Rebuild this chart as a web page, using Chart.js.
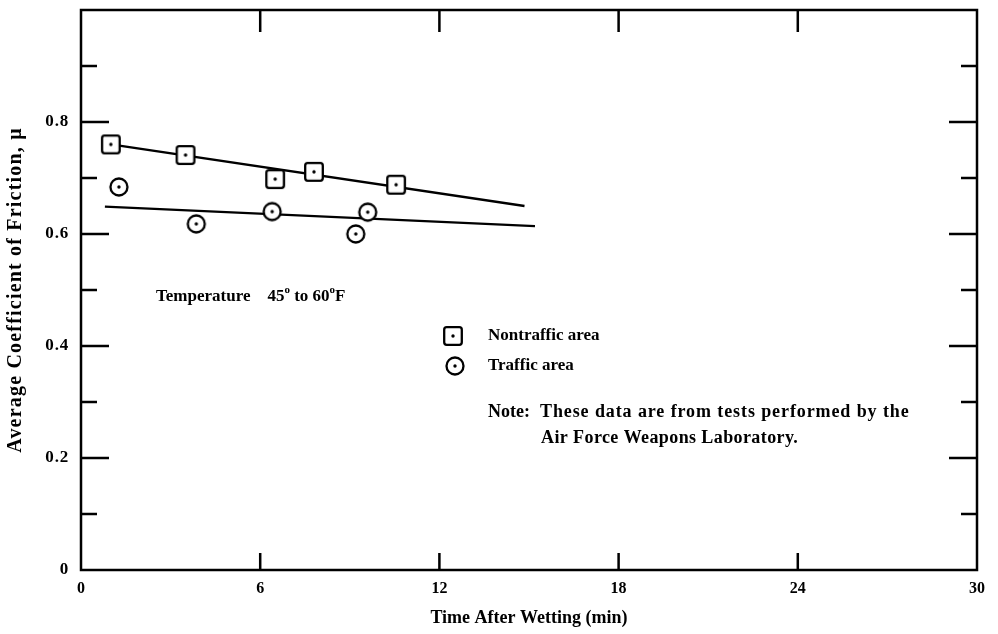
<!DOCTYPE html>
<html>
<head>
<meta charset="utf-8">
<script src="https://cdn.jsdelivr.net/npm/chart.js@4"></script>
<style>
  html, body { margin: 0; padding: 0; background: #ffffff; }
  #wrap { width: 998px; height: 634px; }
</style>
</head>
<body>
<div id="wrap"><canvas id="c" width="998" height="634"></canvas></div>
<script>
// ---- data ----
const timeNontraffic = [1.0, 3.5, 6.5, 7.8, 10.55];
const muNontraffic   = [0.760, 0.741, 0.698, 0.711, 0.688];
const timeTraffic    = [1.27, 3.86, 6.4, 9.6, 9.2];
const muTraffic      = [0.684, 0.618, 0.640, 0.639, 0.600];
const fitNontrafficX = [1.0, 14.85];
const fitNontrafficY = [0.760, 0.650];
const fitTrafficX    = [0.8, 15.2];
const fitTrafficY    = [0.649, 0.614];
const xTickValues    = [0, 6, 12, 18, 24, 30];
const yTickLabels    = ['0', '0.2', '0.4', '0.6', '0.8'];
const seriesNames    = ['Nontraffic area', 'Traffic area'];

const FONT = '"Liberation Serif", "Times New Roman", serif';

function pts(xs, ys) { return xs.map((x, i) => ({ x: x, y: ys[i] })); }

function makeMarker(kind) {
  const c = document.createElement('canvas');
  c.width = 24; c.height = 24;
  const g = c.getContext('2d');
  g.lineWidth = 2.3;
  g.strokeStyle = '#000';
  g.fillStyle = '#fff';
  g.beginPath();
  if (kind === 'square') {
    g.roundRect(3.2, 3.2, 17.6, 17.6, 2.5);
  } else {
    g.arc(12, 12, 8.5, 0, Math.PI * 2);
  }
  g.fill();
  g.stroke();
  g.fillStyle = '#000';
  g.beginPath();
  g.arc(12, 12, 1.7, 0, Math.PI * 2);
  g.fill();
  return c;
}
const squareMarker = makeMarker('square');
const circleMarker = makeMarker('circle');

// widen the y-axis text (labels + title) like the scanned original
function withSpacing(fn, sp) {
  return function () {
    const ctx = this.ctx;
    const prev = ctx.letterSpacing;
    ctx.letterSpacing = sp;
    const r = fn.apply(this, arguments);
    ctx.letterSpacing = prev || '0px';
    return r;
  };
}
const spacingPlugin = {
  id: 'spacing',
  afterLayout(chart) {
    const ys = chart.scales.y;
    if (ys && !ys._spaced) {
      ys.drawTitle = withSpacing(Object.getPrototypeOf(ys).drawTitle, '1.2px');
      ys.drawLabels = withSpacing(Object.getPrototypeOf(ys).drawLabels, '0.8px');
      ys._spaced = true;
    }
  }
};

const framePlugin = {
  id: 'frame',
  afterDraw(chart) {
    const ctx = chart.ctx;
    const a = chart.chartArea;
    const xs = chart.scales.x, ys = chart.scales.y;
    ctx.save();
    ctx.strokeStyle = '#000';
    ctx.lineWidth = 2.5;
    ctx.strokeRect(a.left, a.top, a.right - a.left, a.bottom - a.top);
    // y ticks (left & right), inward
    ys.ticks.forEach(t => {
      const v = t.value;
      if (v <= 0.001 || v >= 0.999) return;
      const major = Math.round(v * 10) % 2 === 0;
      const len = major ? 28 : 16;
      const y = ys.getPixelForValue(v);
      ctx.beginPath();
      ctx.moveTo(a.left, y); ctx.lineTo(a.left + len, y);
      ctx.moveTo(a.right, y); ctx.lineTo(a.right - len, y);
      ctx.stroke();
    });
    // x ticks (bottom & top), inward
    xs.ticks.forEach(t => {
      const v = t.value;
      if (v <= 0.001 || v >= 29.999) return;
      const x = xs.getPixelForValue(v);
      ctx.beginPath();
      ctx.moveTo(x, a.bottom); ctx.lineTo(x, a.bottom - 17);
      ctx.moveTo(x, a.top); ctx.lineTo(x, a.top + 22);
      ctx.stroke();
    });

    // annotations
    ctx.fillStyle = '#000';
    ctx.textBaseline = 'middle';
    ctx.textAlign = 'left';
    const big = 'bold 17px ' + FONT;
    const small = 'bold 11px ' + FONT;
    // Temperature line with superscripts
    let x = 156, y = 297;
    const parts = [['Temperature    45', big, 0], ['o', small, -7], [' to 60', big, 0], ['o', small, -7], ['F', big, 0]];
    parts.forEach(p => {
      ctx.font = p[1];
      ctx.fillText(p[0], x, y + p[2]);
      x += ctx.measureText(p[0]).width;
    });
    // legend
    ctx.font = big;
    ctx.drawImage(squareMarker, 453 - 12, 336 - 12);
    ctx.fillText(seriesNames[0], 488, 336);
    ctx.drawImage(circleMarker, 455 - 12, 366 - 12);
    ctx.fillText(seriesNames[1], 488, 366);
    // note
    ctx.font = 'bold 18px ' + FONT;
    ctx.fillText('Note:', 488, 412);
    ctx.letterSpacing = '0.9px';
    ctx.fillText('These data are from tests performed by the', 540, 412);
    ctx.letterSpacing = '0.4px';
    ctx.fillText('Air Force Weapons Laboratory.', 541, 438);
    ctx.letterSpacing = '0px';
    ctx.restore();
  }
};

new Chart(document.getElementById('c'), {
  type: 'scatter',
  data: {
    datasets: [
      {
        label: seriesNames[0],
        data: pts(timeNontraffic, muNontraffic),
        pointStyle: squareMarker,
        pointRadius: 9,
        order: 0
      },
      {
        label: seriesNames[1],
        data: pts(timeTraffic, muTraffic),
        pointStyle: circleMarker,
        pointRadius: 9,
        order: 0
      },
      {
        type: 'line',
        label: 'fit nontraffic',
        data: pts(fitNontrafficX, fitNontrafficY),
        borderColor: '#000',
        borderWidth: 2.3,
        pointRadius: 0,
        fill: false,
        order: 1
      },
      {
        type: 'line',
        label: 'fit traffic',
        data: pts(fitTrafficX, fitTrafficY),
        borderColor: '#000',
        borderWidth: 2.3,
        pointRadius: 0,
        fill: false,
        order: 1
      }
    ]
  },
  options: {
    responsive: false,
    animation: false,
    devicePixelRatio: 1,
    layout: { padding: { top: 10, right: 21, left: 0, bottom: 0 } },
    plugins: { legend: { display: false }, tooltip: { enabled: false } },
    scales: {
      x: {
        type: 'linear',
        min: 0, max: 30,
        afterFit(s) { s.height = 64; s.paddingLeft = 0; s.paddingRight = 0; },
        afterBuildTicks(s) { s.ticks = xTickValues.map(v => ({ value: v })); },
        grid: { display: false, drawTicks: false },
        border: { display: false },
        ticks: {
          color: '#000',
          padding: 9,
          font: { family: FONT, size: 16, weight: 'bold' },
          maxRotation: 0,
          callback: v => String(v)
        },
        title: {
          display: true,
          text: 'Time After Wetting (min)',
          color: '#000',
          font: { family: FONT, size: 18, weight: 'bold' },
          padding: { top: 0, bottom: 5 }
        }
      },
      y: {
        type: 'linear',
        min: 0, max: 1.0,
        afterFit(s) { s.width = 81; s.paddingTop = 0; s.paddingBottom = 0; },
        grid: { display: false, drawTicks: false },
        border: { display: false },
        ticks: {
          stepSize: 0.1,
          color: '#000',
          padding: 12,
          autoSkip: false,
          font: { family: FONT, size: 17, weight: 'bold' },
          callback: function (v) {
            const k = Math.round(v * 10);
            if (k % 2 !== 0 || k >= 10) return '';
            return yTickLabels[k / 2];
          }
        },
        title: {
          display: true,
          text: 'Average Coefficient of Friction, μ',
          color: '#000',
          font: { family: FONT, size: 20, weight: 'bold' },
          padding: { top: 4, bottom: 0 }
        }
      }
    }
  },
  plugins: [spacingPlugin, framePlugin]
});
</script>
</body>
</html>
